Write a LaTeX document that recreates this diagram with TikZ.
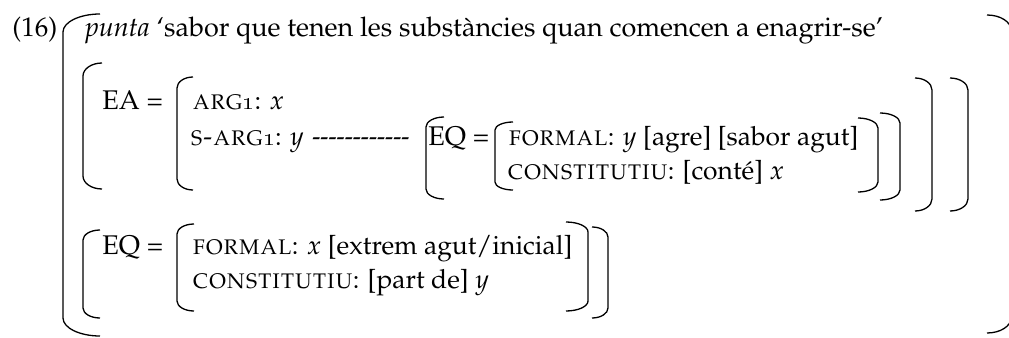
\documentclass[tikz,border=0pt]{standalone}
\usepackage[T1]{fontenc}
\usepackage{mathpazo}
\newcommand\brL[5]{\draw[brk] ({#1+#4},#2) .. controls ({#1+0.45*#4},#2) and (#1,{#2+0.45*#5}) .. (#1,{#2+#5}) -- (#1,{#3-#5}) .. controls (#1,{#3-0.45*#5}) and ({#1+0.45*#4},#3) .. ({#1+#4},#3);}
\newcommand\brR[5]{\draw[brk] ({#1-#4},#2) .. controls ({#1-0.45*#4},#2) and (#1,{#2+0.45*#5}) .. (#1,{#2+#5}) -- (#1,{#3-#5}) .. controls (#1,{#3-0.45*#5}) and ({#1-0.45*#4},#3) .. ({#1-#4},#3);}
\begin{document}
\begin{tikzpicture}[x=0.5pt,y=-0.5pt,
  txt/.style={anchor=base west,inner sep=0pt,font=\fontsize{13.5}{15}\selectfont},
  sct/.style={txt,font=\fontsize{13.2}{15}\selectfont},
  brk/.style={line width=0.65pt}]
\useasboundingbox (0,0) rectangle (1009,338);
% texts
\node[txt] (num) at (12,36) {(16)};
\node[txt] (gloss) at (85,36) {\textit{punta} `sabor que tenen les subst\`ancies quan comencen a enagrir-se'};
\node[txt] (ea) at (102,109) {EA =};
\node[sct] (arg) at (192,109) {\textsc{arg}\oldstylenums{1}: $x$};
\node[sct] (sarg) at (190,145) {\textsc{s-arg}\oldstylenums{1}: $y$};
\node[txt] (dash) at (312,145) {\scalebox{0.9}[1]{-{}-{}-{}-{}-{}-{}-{}-{}-{}-{}-{}-}};
\node[txt] (eqa) at (428,145) {EQ =};
\node[sct] (fa) at (508,145) {\textsc{formal}: $y$ [agre] [sabor agut]};
\node[sct] (ca) at (507,179) {\textsc{constitutiu}: [cont\'e] $x$};
\node[txt] (eqb) at (102,254) {EQ =};
\node[sct] (fb) at (192,254) {\textsc{formal}: $x$ [extrem agut/inicial]};
\node[sct] (cb) at (192,288) {\textsc{constitutiu}: [part de] $y$};
% left brackets
\brL{63}{14}{336}{37}{18}
\brL{83}{63}{189}{19}{13}
\brL{177}{77}{190}{16}{11}
\brL{426}{117}{199}{18}{10}
\brL{495}{122}{190}{18}{8}
\brL{83}{230}{318}{17}{10}
\brL{177}{224}{311}{17}{10}
% right brackets
\brR{1011}{15}{333}{24}{15}
\brR{932}{78}{211}{17}{12}
\brR{968}{78}{211}{18}{12}
\brR{878}{118}{192}{20}{10}
\brR{900}{113}{200}{20}{10}
\brR{588}{222}{311}{22}{10}
\brR{608}{227}{318}{16}{10}
\end{tikzpicture}
\end{document}
